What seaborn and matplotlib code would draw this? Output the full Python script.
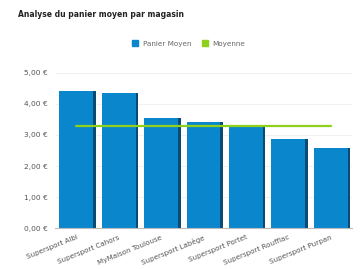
import numpy as np
import pandas as pd
import matplotlib
matplotlib.use("Agg")
import matplotlib.pyplot as plt
from matplotlib.patches import Patch
import seaborn as sns

magasins = ["Supersport Albi", "Supersport Cahors", "MyMaison Toulouse", "Supersport Labège",
            "Supersport Portet", "Supersport Roufflac", "Supersport Purpan"]
panier_moyen = [4.42, 4.35, 3.55, 3.42, 3.32, 2.88, 2.58]
moyenne = [3.28] * len(magasins)
yticks = [0, 1, 2, 3, 4, 5]

df = pd.DataFrame({"magasin": magasins, "panier": panier_moyen, "moyenne": moyenne})

sns.set_style("white")
plt.rcParams["font.family"] = ["DejaVu Sans"]

fig = plt.figure(figsize=(3.64, 2.69), dpi=100)
ax = fig.add_axes([0.151, 0.152, 0.816, 0.577])

blue = "#0a86cd"
dark = "#0b4a73"
green = "#8fd11a"

# fake 3D side: darker bars slightly shifted
ax.bar(np.arange(len(magasins)) + 0.06, df["panier"], width=0.8, color=dark,
       linewidth=0, zorder=1)
sns.barplot(data=df, x="magasin", y="panier", color=blue, width=0.8, saturation=1,
            linewidth=0, edgecolor=blue, ax=ax, zorder=2)
sns.lineplot(data=df, x="magasin", y="moyenne", color=green, lw=1.6, ax=ax, zorder=3)

ax.set_ylim(0, 5)
ax.set_xlim(-0.5, len(magasins) - 0.5)
ax.set_yticks(yticks)
ax.set_yticklabels([f"{v:.2f} €".replace(".", ",") for v in yticks], fontsize=5.4, color="#555555")
ax.set_xticks(range(len(magasins)))
ax.set_xticklabels(magasins, rotation=22, ha="right", rotation_mode="anchor",
                   fontsize=5.1, color="#555555")
ax.tick_params(axis="y", length=3, color="#aaaaaa", pad=2)
ax.tick_params(axis="x", length=3, color="#aaaaaa", pad=1.5)
ax.set_xlabel("")
ax.set_ylabel("")
ax.yaxis.grid(True, color="#eeeeee", lw=0.6)
ax.set_axisbelow(True)
for s in ["top", "right", "left"]:
    ax.spines[s].set_visible(False)
ax.spines["bottom"].set_color("#bbbbbb")

handles = [Patch(color=blue), Patch(color=green)]
ax.legend(handles, ["Panier Moyen", "Moyenne"], loc="center", bbox_to_anchor=(0.45, 1.19),
          ncol=2, frameon=False, fontsize=5.2, handlelength=0.8, handleheight=0.8,
          columnspacing=1.5, handletextpad=0.6, labelcolor="#666666")

fig.text(0.05, 0.935, "Analyse du panier moyen par magasin", fontsize=5.5,
         fontweight="bold", color="#222222")

fig.savefig("out.png", dpi=100)
